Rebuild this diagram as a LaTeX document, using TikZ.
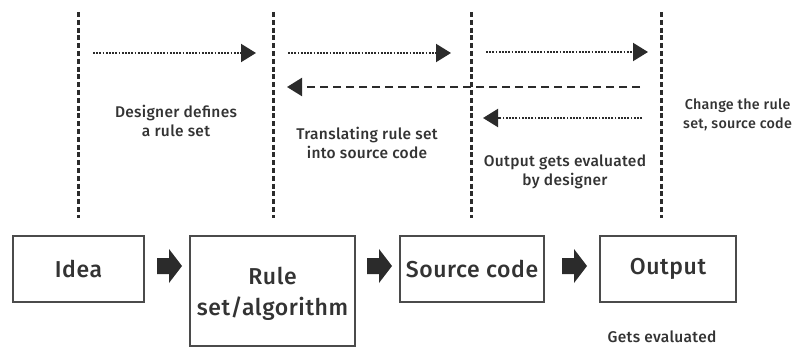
\documentclass[tikz,border=0pt]{standalone}
\usepackage{fontspec}
\setmainfont{Fira Sans}[UprightFont=* Medium]
\newfontfamily\lblfont{Fira Sans}[UprightFont=* Medium,LetterSpace=2]
\newfontfamily\boxfont{Fira Sans}[UprightFont=* Medium,LetterSpace=2.5]
\usetikzlibrary{arrows.meta}
\definecolor{ink}{HTML}{2B2B2B}
\definecolor{txt}{HTML}{333333}
\begin{document}
\begin{tikzpicture}[x=1pt,y=-1pt,
  vline/.style={line width=3pt,ink,dash pattern=on 5pt off 2.8pt},
  dotarrow/.style={line width=2pt,ink,dash pattern=on 1.8pt off 1.4pt,-{Triangle[length=15pt,width=18pt]}},
  dasharrow/.style={line width=2.3pt,ink,dash pattern=on 8pt off 5pt,-{Triangle[length=15pt,width=18pt]}},
  box/.style={draw=ink!85,line width=1.4pt,text=txt,font=\boxfont\fontsize{23}{27}\selectfont,align=center,inner sep=0pt},
  lbl/.style={text=txt,font=\lblfont\fontsize{15.5}{19}\selectfont,align=center,inner sep=0pt},
  blockarrow/.style={fill=ink}
]
\useasboundingbox (0,0) rectangle (799,347);
% vertical separators
\coordinate (v1t) at (78,12);   \coordinate (v1b) at (78,218);
\coordinate (v2t) at (273,12);  \coordinate (v2b) at (273,218);
\coordinate (v3t) at (471,12);  \coordinate (v3b) at (471,218);
\coordinate (v4t) at (661,12);  \coordinate (v4b) at (661,218);
\draw[vline] (v1t) -- (v1b);
\draw[vline] (v2t) -- (v2b);
\draw[vline] (v3t) -- (v3b);
\draw[vline] (v4t) -- (v4b);
% top arrows
\coordinate (a1s) at (93,53);  \coordinate (a1e) at (256,53);
\coordinate (a2s) at (288,53); \coordinate (a2e) at (451,53);
\coordinate (a3s) at (486,52); \coordinate (a3e) at (648,52);
\draw[dotarrow] (a1s) -- (a1e);
\draw[dotarrow] (a2s) -- (a2e);
\draw[dotarrow] (a3s) -- (a3e);
\coordinate (b1s) at (640,87); \coordinate (b1e) at (287,87);
\draw[dasharrow] (b1s) -- (b1e);
\coordinate (c1s) at (642,118); \coordinate (c1e) at (483,118);
\draw[dotarrow] (c1s) -- (c1e);
% labels
\node[lbl] (l1) at (176,121) {Designer defines\\a rule set};
\node[lbl] (l2) at (367,143) {Translating rule set\\into source code};
\node[lbl] (l3) at (565,172) {Output gets evaluated\\by designer};
\node[lbl,font=\lblfont\fontsize{14.3}{19}\selectfont,anchor=west] (l4) at (683,115) {Change the rule\\set, source code};
% boxes
\node[box,minimum width=131pt,minimum height=66pt] (idea) at (78.5,269) {Idea};
\node[box,minimum width=165pt,minimum height=110pt] (rule) at (272.5,291) {};
\node[box,draw=none,font=\boxfont\fontsize{23}{31}\selectfont] (rulet) at (272.5,294) {Rule\\set/algorithm};
\node[box,minimum width=144pt,minimum height=66pt] (src) at (472,269) {Source code};
\node[box,minimum width=136pt,minimum height=66pt] (out) at (668,269) {Output};
\node[lbl] (ge) at (662,337) {Gets evaluated};
% block arrows
\foreach \x/\n in {157/ba1,367/ba2,562/ba3}{
  \fill[blockarrow] (\x,258) -- (\x+12,258) -- (\x+12,249) -- (\x+25,266) -- (\x+12,283) -- (\x+12,274) -- (\x,274) -- cycle;
}
\end{tikzpicture}
\end{document}
